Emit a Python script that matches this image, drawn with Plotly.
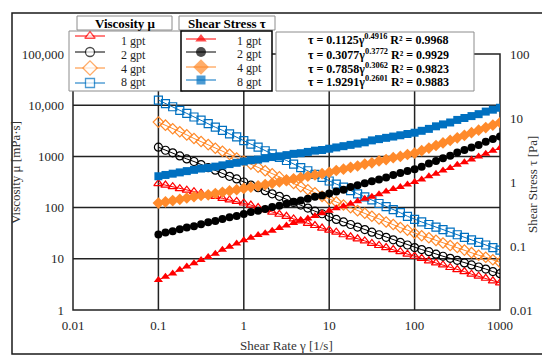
import numpy as np
import plotly.graph_objects as go

# ---------------- data ----------------
shear_rate = [0.1, 0.121, 0.147, 0.178, 0.215, 0.261, 0.316, 0.383, 0.464, 0.562, 0.681, 0.825,
              1, 1.21, 1.47, 1.78, 2.15, 2.61, 3.16, 3.83, 4.64, 5.62, 6.81, 8.25,
              10, 12.1, 14.7, 17.8, 21.5, 26.1, 31.6, 38.3, 46.4, 56.2, 68.1, 82.5,
              100, 121, 147, 178, 215, 261, 316, 383, 464, 562, 681, 825, 1000]

# viscosity, log10 of mPa·s
visc_1gpt_log10 = [2.47, 2.44, 2.41, 2.37, 2.34, 2.31, 2.28, 2.25, 2.22, 2.18, 2.15, 2.12, 2.09,
                   2.05, 2.00, 1.96, 1.91, 1.87, 1.83, 1.78, 1.74, 1.69, 1.65, 1.60, 1.56,
                   1.52, 1.47, 1.43, 1.39, 1.35, 1.30, 1.26, 1.22, 1.18, 1.14, 1.09, 1.05,
                   1.01, 0.96, 0.92, 0.88, 0.83, 0.79, 0.75, 0.70, 0.66, 0.62, 0.57, 0.53]
visc_2gpt_log10 = [3.18, 3.12, 3.07, 3.01, 2.95, 2.90, 2.84, 2.78, 2.73, 2.67, 2.61, 2.56, 2.50,
                   2.44, 2.39, 2.33, 2.27, 2.22, 2.16, 2.10, 2.05, 1.99, 1.93, 1.88, 1.82,
                   1.77, 1.72, 1.67, 1.62, 1.57, 1.52, 1.47, 1.42, 1.37, 1.32, 1.27, 1.22,
                   1.18, 1.14, 1.09, 1.05, 1.01, 0.97, 0.92, 0.88, 0.84, 0.80, 0.75, 0.71]
visc_4gpt_log10 = [3.67, 3.61, 3.54, 3.48, 3.42, 3.35, 3.29, 3.23, 3.16, 3.10, 3.04, 2.97, 2.91,
                   2.85, 2.79, 2.72, 2.66, 2.60, 2.54, 2.47, 2.41, 2.35, 2.29, 2.22, 2.16,
                   2.11, 2.05, 2.00, 1.94, 1.89, 1.83, 1.78, 1.72, 1.67, 1.61, 1.56, 1.50,
                   1.45, 1.41, 1.36, 1.31, 1.26, 1.22, 1.17, 1.12, 1.07, 1.03, 0.98, 0.93]
visc_8gpt_log10 = [4.10, 4.03, 3.97, 3.90, 3.84, 3.77, 3.71, 3.64, 3.57, 3.51, 3.44, 3.38, 3.31,
                   3.24, 3.18, 3.11, 3.05, 2.98, 2.92, 2.85, 2.78, 2.72, 2.65, 2.59, 2.52,
                   2.46, 2.40, 2.33, 2.27, 2.21, 2.15, 2.08, 2.02, 1.96, 1.90, 1.83, 1.77,
                   1.72, 1.67, 1.62, 1.57, 1.52, 1.47, 1.42, 1.37, 1.32, 1.27, 1.22, 1.17]

# shear stress, log10 of Pa
stress_1gpt_log10 = [-1.53, -1.48, -1.43, -1.37, -1.32, -1.27, -1.22, -1.17, -1.12, -1.06, -1.01, -0.96, -0.91,
                     -0.87, -0.83, -0.80, -0.76, -0.72, -0.68, -0.64, -0.60, -0.57, -0.53, -0.49, -0.45,
                     -0.41, -0.38, -0.34, -0.30, -0.26, -0.23, -0.19, -0.15, -0.11, -0.08, -0.04, 0.00,
                     0.04, 0.09, 0.13, 0.18, 0.22, 0.27, 0.31, 0.35, 0.40, 0.44, 0.49, 0.53]
stress_2gpt_log10 = [-0.82, -0.79, -0.77, -0.74, -0.71, -0.69, -0.66, -0.63, -0.61, -0.58, -0.55, -0.53, -0.50,
                     -0.47, -0.45, -0.42, -0.39, -0.37, -0.34, -0.31, -0.29, -0.26, -0.23, -0.21, -0.18,
                     -0.15, -0.12, -0.08, -0.05, -0.02, 0.01, 0.04, 0.07, 0.11, 0.14, 0.17, 0.20,
                     0.24, 0.29, 0.33, 0.37, 0.41, 0.46, 0.50, 0.54, 0.58, 0.63, 0.67, 0.71]
stress_4gpt_log10 = [-0.33, -0.31, -0.29, -0.27, -0.25, -0.23, -0.21, -0.20, -0.18, -0.16, -0.14, -0.12, -0.10,
                     -0.08, -0.06, -0.04, -0.02, 0.00, 0.02, 0.05, 0.07, 0.09, 0.11, 0.13, 0.15,
                     0.18, 0.20, 0.23, 0.25, 0.28, 0.30, 0.33, 0.35, 0.38, 0.40, 0.43, 0.45,
                     0.49, 0.53, 0.57, 0.61, 0.65, 0.69, 0.73, 0.77, 0.81, 0.85, 0.89, 0.93]
stress_8gpt_log10 = [0.09, 0.11, 0.13, 0.15, 0.17, 0.19, 0.21, 0.22, 0.24, 0.26, 0.28, 0.30, 0.32,
                     0.34, 0.35, 0.37, 0.39, 0.40, 0.42, 0.44, 0.45, 0.47, 0.49, 0.50, 0.52,
                     0.54, 0.56, 0.58, 0.60, 0.62, 0.65, 0.67, 0.69, 0.71, 0.73, 0.75, 0.77,
                     0.80, 0.83, 0.87, 0.90, 0.93, 0.97, 1.00, 1.03, 1.06, 1.10, 1.13, 1.16]

series_labels = ["1 gpt", "2 gpt", "4 gpt", "8 gpt"]
equations = ["τ = 0.1125γ<sup>0.4916</sup> R² = 0.9968",
             "τ = 0.3077γ<sup>0.3772</sup> R² = 0.9929",
             "τ = 0.7858γ<sup>0.3062</sup> R² = 0.9823",
             "τ = 1.9291γ<sup>0.2601</sup> R² = 0.9883"]

x_tickvals = [0.01, 0.1, 1, 10, 100, 1000]
x_ticktext = ["0.01", "0.1", "1", "10", "100", "1000"]
yl_tickvals = [1, 10, 100, 1000, 10000, 100000]
yl_ticktext = ["1", "10", "100", "1000", "10,000", "100,000"]
yr_tickvals = [0.01, 0.1, 1, 10, 100]
yr_ticktext = ["0.01", "0.1", "1", "10", "100"]

# ---------------- styling ----------------
W, H = 550, 356
FONT = "Liberation Serif"
colors = ["#FF0000", "#000000", "#FF8A2B", "#0070C0"]
open_symbols = ["triangle-up-open", "circle-open", "diamond-open", "square-open"]
filled_symbols = ["triangle-up", "circle", "diamond", "square"]
open_sizes = [8, 8, 8, 8]
filled_sizes = [8, 8, 9, 8]
GRID = "#222222"

visc = [visc_1gpt_log10, visc_2gpt_log10, visc_4gpt_log10, visc_8gpt_log10]
stress = [stress_1gpt_log10, stress_2gpt_log10, stress_4gpt_log10, stress_8gpt_log10]

# plot area in pixels
PL, PR, PT, PB = 65, 492, 46, 302
def px(x):
    return x / W
def py(y):
    return 1 - y / H

fig = go.Figure()

for lab, c, s, sz, v in zip(series_labels, colors, open_symbols, open_sizes, visc):
    fig.add_trace(go.Scatter(
        x=shear_rate, y=np.power(10.0, v), name="Viscosity " + lab,
        mode="lines+markers", xaxis="x", yaxis="y",
        line=dict(color=c, width=1),
        marker=dict(symbol=s, size=sz, color=c, line=dict(width=1.2, color=c)),
    ))
for lab, c, s, sz, v in zip(series_labels, colors, filled_symbols, filled_sizes, stress):
    fig.add_trace(go.Scatter(
        x=shear_rate, y=np.power(10.0, v), name="Shear stress " + lab,
        mode="lines+markers", xaxis="x", yaxis="y2",
        line=dict(color=c, width=1),
        marker=dict(symbol=s, size=sz, color=c, line=dict(width=0)),
    ))

shapes = []
# gridlines (vertical)
for v in x_tickvals[1:-1]:
    shapes.append(dict(type="line", xref="x", yref="paper", x0=v, x1=v,
                       y0=py(PB), y1=py(PT), layer="below", line=dict(color=GRID, width=1.5)))
# gridlines (horizontal, left axis)
for v in yl_tickvals[1:-1]:
    shapes.append(dict(type="line", xref="paper", yref="y", x0=px(PL), x1=px(PR),
                       y0=v, y1=v, layer="below", line=dict(color=GRID, width=1.5)))
# plot frame
shapes.append(dict(type="rect", xref="paper", yref="paper", x0=px(PL), x1=px(PR), y0=py(PB), y1=py(PT),
                   layer="below", line=dict(color=GRID, width=1.5)))
# outer border
shapes.append(dict(type="rect", xref="paper", yref="paper", x0=px(4), x1=px(543), y0=py(346), y1=py(5),
                   layer="below", line=dict(color="#1a1a1a", width=1.5)))
# legend boxes
def box(x0, y0, x1, y1, color="#8c8c8c", width=1):
    shapes.append(dict(type="rect", xref="paper", yref="paper", x0=px(x0), x1=px(x1), y0=py(y1), y1=py(y0),
                       layer="below", fillcolor="white", line=dict(color=color, width=width)))
box(69, 8, 164, 22)
box(171, 8, 267, 22)
box(61, 23, 175, 83)
box(173, 23, 264, 83, color="#000000", width=1.5)
box(268, 24, 466, 83)

visc_rows = [28, 44, 60, 75]
visc_text_rows = [33, 47, 61, 74]
stress_rows = [31, 44, 59, 72]
stress_text_rows = [33, 46, 60, 74]

for r, c in zip(visc_rows, colors):
    shapes.append(dict(type="line", xref="paper", yref="paper", x0=px(67), x1=px(97), y0=py(r), y1=py(r),
                       layer="below", line=dict(color=c, width=1)))
for r, c in zip(stress_rows, colors):
    shapes.append(dict(type="line", xref="paper", yref="paper", x0=px(178), x1=px(208), y0=py(r), y1=py(r),
                       layer="below", line=dict(color=c, width=1)))

# legend markers on an invisible full-figure pixel axis
fig.add_trace(go.Scatter(
    x=[82] * 4, y=visc_rows, mode="markers", xaxis="x2", yaxis="y3", hoverinfo="skip",
    marker=dict(symbol=filled_symbols, size=[9, 9, 11, 9], color="white",
                line=dict(width=1.3, color=colors)), cliponaxis=False))
fig.add_trace(go.Scatter(
    x=[193] * 4, y=stress_rows, mode="markers", xaxis="x2", yaxis="y3", hoverinfo="skip",
    marker=dict(symbol=filled_symbols, size=[10, 10, 12, 9], color=colors, line=dict(width=0)),
    cliponaxis=False))

annotations = []
def text(x, y, t, size=12, bold=False, xanchor="left", angle=0, color="#1e1e1e"):
    annotations.append(dict(xref="x2", yref="y3", x=x, y=y, text=("<b>%s</b>" % t) if bold else t,
                            showarrow=False, xanchor=xanchor, yanchor="middle", textangle=angle,
                            font=dict(family=FONT, size=size, color=color)))

text(117, 15, "Viscosity μ", size=13, bold=True, xanchor="center", color="#000000")
text(219, 15, "Shear Stress τ", size=13, bold=True, xanchor="center", color="#000000")
for r, lab in zip(visc_text_rows, series_labels):
    text(111, r, lab, size=12)
for r, lab in zip(stress_text_rows, series_labels):
    text(227, r, lab, size=12)
for r, eq in zip([31, 46, 60, 73], equations):
    text(370, r, eq, size=12, bold=True, xanchor="center", color="#000000")

text(278, 337, "Shear Rate γ [1/s]", size=13, xanchor="center", color="#333333")
text(7, 165, "Viscosity μ [mPa·s]", size=13, xanchor="center", angle=-90, color="#333333")
text(524, 177, "Shear Stress τ [Pa]", size=13, xanchor="center", angle=-90, color="#333333")

tickfont = dict(family=FONT, size=13, color="#1e1e1e")
fig.update_layout(
    width=W, height=H, margin=dict(l=0, r=0, t=0, b=0),
    paper_bgcolor="white", plot_bgcolor="rgba(0,0,0,0)", showlegend=False,
    font=dict(family=FONT, size=13, color="#1e1e1e"),
    xaxis=dict(type="log", range=[-2, 3], domain=[px(PL), px(PR)], anchor="y",
               tickvals=x_tickvals, ticktext=x_ticktext, showgrid=False, showline=False,
               zeroline=False, ticks="", tickfont=tickfont, ticklabelstandoff=6, automargin=False),
    yaxis=dict(type="log", range=[0, 5], domain=[py(PB), py(PT)], anchor="x",
               tickvals=yl_tickvals, ticktext=yl_ticktext, showgrid=False, showline=False,
               zeroline=False, ticks="", tickfont=tickfont, ticklabelstandoff=8, automargin=False),
    yaxis2=dict(type="log", range=[-2, 2], overlaying="y", side="right", anchor="x",
                tickvals=yr_tickvals, ticktext=yr_ticktext, showgrid=False, showline=False,
                zeroline=False, ticks="", tickfont=tickfont, ticklabelstandoff=9, automargin=False),
    xaxis2=dict(domain=[0, 1], range=[0, W], visible=False, anchor="y3", fixedrange=True),
    yaxis3=dict(domain=[0, 1], range=[H, 0], visible=False, anchor="x2", fixedrange=True),
    shapes=shapes, annotations=annotations,
)

fig.write_html("out.html")
